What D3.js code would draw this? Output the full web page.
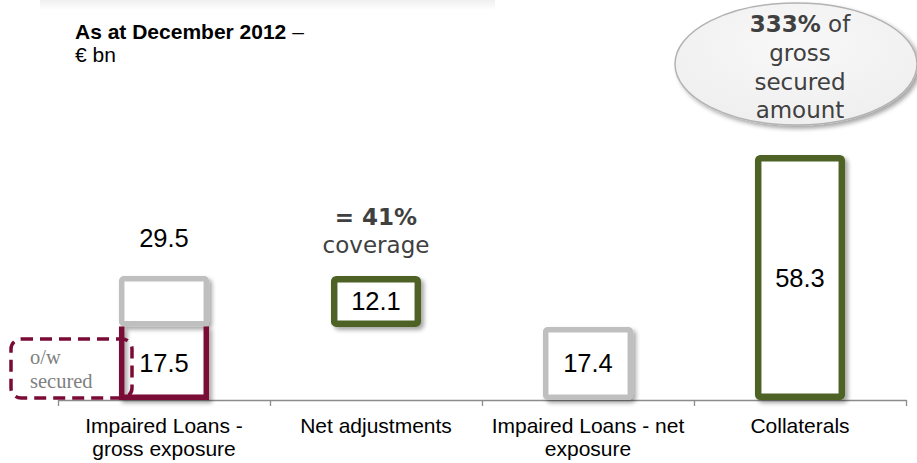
<!DOCTYPE html>
<html>
<head>
<meta charset="utf-8">
<script src="https://cdn.jsdelivr.net/npm/d3@7/dist/d3.min.js"></script>
<style>
  html, body { margin: 0; padding: 0; background: #fff; }
  svg { display: block; }
</style>
</head>
<body>
<svg id="chart" width="917" height="463"></svg>
<script>
// Impaired loans waterfall, € bn, December 2012
const categories = ["gross", "adjust", "net", "collat"];
const categoryLines = [
  ["Impaired Loans -", "gross exposure"],
  ["Net adjustments"],
  ["Impaired Loans - net", "exposure"],
  ["Collaterals"]
];
const grossExposure = 29.5;
const securedPart = 17.5;
const netAdjustments = 12.1;
const netExposure = 17.4;
const collaterals = 58.3;
const coverageLines = ["= 41%", "coverage"];
const calloutLines = ["333%", " of", "gross", "secured", "amount"];

const maroon = "#7a0b36";
const green = "#4f6228";
const grey = "#bfbfbf";
const textGrey = "#404040";
const sans = "'Liberation Sans', Arial, sans-serif";
const verd = "'DejaVu Sans', Verdana, sans-serif";
const serif = "'Liberation Serif', 'Times New Roman', serif";

const svg = d3.select("#chart");
const defs = svg.append("defs");

const shadow = defs.append("filter").attr("id", "shadow")
  .attr("x", "-20%").attr("y", "-20%").attr("width", "150%").attr("height", "150%");
shadow.append("feDropShadow").attr("dx", 3).attr("dy", 3)
  .attr("stdDeviation", 2).attr("flood-color", "#000").attr("flood-opacity", 0.35);

const strip = defs.append("linearGradient").attr("id", "strip")
  .attr("x1", 0).attr("y1", 0).attr("x2", 0).attr("y2", 1);
strip.append("stop").attr("offset", 0).attr("stop-color", "#f0f0f0");
strip.append("stop").attr("offset", 1).attr("stop-color", "#ffffff");

const bubble = defs.append("radialGradient").attr("id", "bubble")
  .attr("cx", "50%").attr("cy", "35%").attr("r", "65%");
bubble.append("stop").attr("offset", 0).attr("stop-color", "#f8f8f8");
bubble.append("stop").attr("offset", 1).attr("stop-color", "#efefef");

// faint header band
svg.append("rect").attr("x", 40).attr("y", 0).attr("width", 455).attr("height", 10)
  .attr("fill", "url(#strip)");

// scales
const x = d3.scaleBand().domain(categories).range([58, 906])
  .paddingInner(0.575).paddingOuter(0.2875);
const y = d3.scaleLinear().domain([0, collaterals]).range([400, 155]);
const bw = x.bandwidth();

// category axis with boundary ticks
const edge = d3.scaleLinear().domain([0, categories.length]).range([58, 906]);
const axis = svg.append("g").attr("transform", `translate(0,${y(0)})`)
  .call(d3.axisBottom(edge).tickValues(d3.range(categories.length + 1))
    .tickFormat("").tickSize(6).tickSizeOuter(0));
axis.selectAll("path, line").attr("stroke", "#8c8c8c").attr("stroke-width", 1.3);

// category labels
categories.forEach((c, i) => {
  const t = svg.append("text").attr("x", x(c) + bw / 2).attr("y", 433)
    .attr("text-anchor", "middle").attr("font-family", sans).attr("font-size", 21)
    .attr("fill", "#000");
  categoryLines[i].forEach((line, j) => {
    t.append("tspan").attr("x", x(c) + bw / 2).attr("dy", j === 0 ? 0 : 22.5).text(line);
  });
});

// boxed bar helper: outer edges at [lo, hi] in data units
function box(cat, lo, hi, color, sw) {
  return svg.append("rect")
    .attr("x", x(cat) + sw / 2).attr("y", y(hi) + sw / 2)
    .attr("width", bw - sw).attr("height", y(lo) - y(hi) - sw)
    .attr("rx", 2).attr("fill", "#fff").attr("stroke", color)
    .attr("stroke-width", sw).attr("filter", "url(#shadow)");
}

// gross exposure: unsecured top in grey, secured part in maroon
box("gross", securedPart, grossExposure, grey, 5.5);
{
  const sw = 5.5, x0 = x("gross") + sw / 2, x1 = x("gross") + bw - sw / 2;
  svg.append("path")
    .attr("d", `M${x0},${y(securedPart)} V${y(0) - sw / 2} H${x1} V${y(securedPart)}`)
    .attr("fill", "none").attr("stroke", maroon).attr("stroke-width", sw)
    .attr("filter", "url(#shadow)");
}
// net adjustments, floating down from gross exposure
box("adjust", grossExposure - netAdjustments, grossExposure, green, 6.5);
// net exposure
box("net", 0, netExposure, grey, 5.5);
// collaterals
box("collat", 0, collaterals, green, 6.5);

// value labels
function valueLabel(cat, yPos, v) {
  svg.append("text").attr("x", x(cat) + bw / 2).attr("y", yPos)
    .attr("text-anchor", "middle").attr("font-family", sans).attr("font-size", 25.5)
    .attr("fill", "#000").text(d3.format(".1f")(v));
}
valueLabel("gross", y(grossExposure) - 29, grossExposure);
valueLabel("gross", (y(securedPart) + y(0)) / 2 + 9, securedPart);
valueLabel("adjust", (y(grossExposure) + y(grossExposure - netAdjustments)) / 2 + 9, netAdjustments);
valueLabel("net", (y(netExposure) + y(0)) / 2 + 9, netExposure);
valueLabel("collat", (y(collaterals) + y(0)) / 2 + 9, collaterals);

// coverage note
const cx = x("adjust") + bw / 2;
svg.append("text").attr("x", cx).attr("y", y(grossExposure) - 51)
  .attr("text-anchor", "middle").attr("font-family", verd).attr("font-size", 23)
  .attr("font-weight", "bold").attr("fill", textGrey).text(coverageLines[0]);
svg.append("text").attr("x", cx).attr("y", y(grossExposure) - 23)
  .attr("text-anchor", "middle").attr("font-family", verd).attr("font-size", 23)
  .attr("fill", textGrey).text(coverageLines[1]);

// secured callout
svg.append("rect").attr("x", 11).attr("y", 339).attr("width", 121).attr("height", 59)
  .attr("rx", 10).attr("fill", "none").attr("stroke", maroon)
  .attr("stroke-width", 3.5).attr("stroke-dasharray", "12,7");
svg.append("text").attr("x", 30).attr("y", 364).attr("font-family", serif)
  .attr("font-size", 20.5).attr("fill", "#7f7f7f").text("o/w");
svg.append("text").attr("x", 30).attr("y", 388).attr("font-family", serif)
  .attr("font-size", 20.5).attr("fill", "#7f7f7f").text("secured");

// collateral bubble
const bx = x("collat") + bw / 2;
svg.append("ellipse").attr("cx", bx - 4).attr("cy", 64).attr("rx", 121).attr("ry", 61)
  .attr("fill", "url(#bubble)").attr("stroke", "#b3b3b3").attr("stroke-width", 1.5)
  .attr("filter", "url(#shadow)");
const b1 = svg.append("text").attr("x", bx).attr("y", 32).attr("text-anchor", "middle")
  .attr("font-family", verd).attr("font-size", 23).attr("fill", textGrey);
b1.append("tspan").attr("font-weight", "bold").text(calloutLines[0]);
b1.append("tspan").text(calloutLines[1]);
calloutLines.slice(2).forEach((line, i) => {
  svg.append("text").attr("x", bx).attr("y", 61 + i * 28.5).attr("text-anchor", "middle")
    .attr("font-family", verd).attr("font-size", 23).attr("fill", textGrey).text(line);
});

// title
const title = svg.append("text").attr("x", 75).attr("y", 39)
  .attr("font-family", sans).attr("font-size", 21).attr("fill", "#000");
title.append("tspan").attr("font-weight", "bold").text("As at December 2012 ");
title.append("tspan").text("–");
svg.append("text").attr("x", 75).attr("y", 62).attr("font-family", sans)
  .attr("font-size", 21).attr("fill", "#000").text("€ bn");
</script>
</body>
</html>
